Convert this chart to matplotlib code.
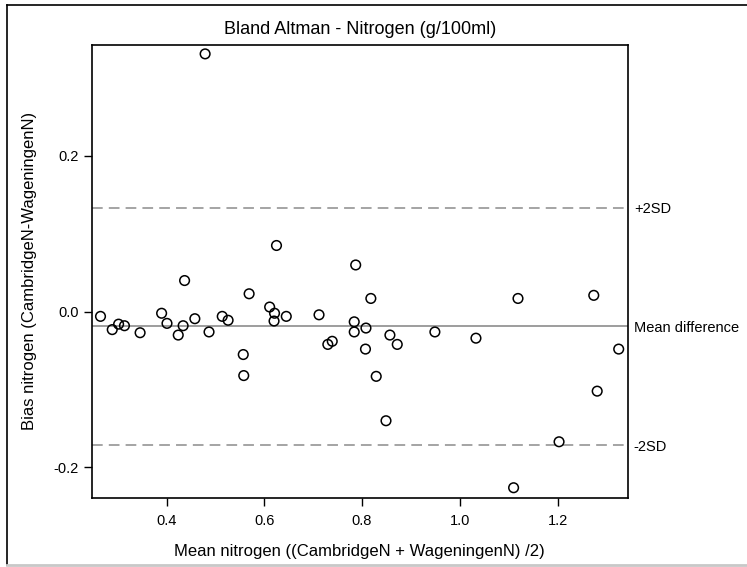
import matplotlib.pyplot as plt
from matplotlib.lines import Line2D

plt.rcParams['font.family'] = ['Liberation Sans', 'DejaVu Sans']

# Mean of the two methods (x) and their difference (y)
mean_n = [0.265, 0.289, 0.302, 0.314, 0.346, 0.390, 0.401, 0.424, 0.434, 0.437,
          0.458, 0.479, 0.487, 0.514, 0.526, 0.557, 0.558, 0.569, 0.611, 0.621,
          0.620, 0.625, 0.645, 0.712, 0.730, 0.739, 0.784, 0.784, 0.787, 0.807,
          0.808, 0.818, 0.829, 0.849, 0.857, 0.872, 0.949, 1.033, 1.119, 1.110,
          1.203, 1.274, 1.281, 1.325]
bias_n = [-0.006, -0.023, -0.016, -0.018, -0.027, -0.002, -0.015, -0.030, -0.018, 0.040,
          -0.009, 0.331, -0.026, -0.006, -0.011, -0.055, -0.082, 0.023, 0.006, -0.002,
          -0.012, 0.085, -0.006, -0.004, -0.042, -0.038, -0.013, -0.026, 0.060, -0.048,
          -0.021, 0.017, -0.083, -0.140, -0.030, -0.042, -0.026, -0.034, 0.017, -0.226,
          -0.167, 0.021, -0.102, -0.048]

mean_diff = -0.019
two_sd = 0.1523

fig = plt.figure(figsize=(7.47, 5.67), dpi=100)
ax = fig.add_axes([92 / 747, 1 - 497.7 / 567, (627.5 - 92) / 747, (497.7 - 45) / 567])

ax.scatter(mean_n, bias_n, s=48, facecolors='none', edgecolors='black',
           linewidths=1.1, zorder=3)

ax.axhline(mean_diff, color='#8c8c8c', linewidth=1.2)
ax.axhline(mean_diff + two_sd, color='#8c8c8c', linewidth=1.1, dashes=(7, 4))
ax.axhline(mean_diff - two_sd, color='#8c8c8c', linewidth=1.1, dashes=(7, 4))

ax.set_xlim(0.2476, 1.343)
ax.set_ylim(-0.2388, 0.3424)
ax.set_xticks([0.4, 0.6, 0.8, 1.0, 1.2])
ax.set_xticklabels(['0.4', '0.6', '0.8', '1.0', '1.2'])
ax.set_yticks([-0.2, 0.0, 0.2])
ax.set_yticklabels(['-0.2', '0.0', '0.2'])
ax.tick_params(direction='out', length=6, width=1, labelsize=10.5, colors='black')
ax.tick_params(axis='x', pad=6)

# labels for the reference lines on the right side
sec = ax.secondary_yaxis('right')
sec.set_yticks([mean_diff + two_sd, mean_diff, mean_diff - two_sd])
sec.set_yticklabels(['+2SD', 'Mean difference', '-2SD'])
sec.tick_params(direction='out', length=0, labelsize=10.5, pad=4.5)
sec.spines['right'].set_visible(False)

for sp in ax.spines.values():
    sp.set_linewidth(1.2)

ax.set_title('Bland Altman - Nitrogen (g/100ml)', fontsize=13, pad=8)
ax.set_xlabel('Mean nitrogen ((CambridgeN + WageningenN) /2)', fontsize=12, labelpad=11)
ax.set_ylabel('Bias nitrogen (CambridgeN-WageningenN)', fontsize=12, labelpad=12)

# outer frame of the exported graph
fig.add_artist(Line2D([7 / 747, 7 / 747], [1 - 565 / 567, 1 - 5 / 567], color='black', linewidth=1.2))
fig.add_artist(Line2D([7 / 747, 1], [1 - 5 / 567, 1 - 5 / 567], color='black', linewidth=1.2))
fig.add_artist(Line2D([7 / 747, 1], [1 - 565 / 567, 1 - 565 / 567], color='#c8c8c8', linewidth=2))

plt.savefig('out.png', dpi=100)
